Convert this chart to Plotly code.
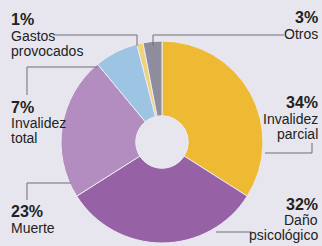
import plotly.graph_objects as go

categories = ["Invalidez parcial", "Daño psicológico", "Muerte", "Invalidez total", "Gastos provocados", "Otros"]
values = [34, 32, 23, 7, 1, 3]
colors = ["#EFBA33", "#9762A5", "#B38CC0", "#9DC5E3", "#F0D27A", "#8E8D9E"]
pct_labels = ["34%", "32%", "23%", "7%", "1%", "3%"]
name_lines = [["Invalidez", "parcial"], ["Daño", "psicológico"], ["Muerte"], ["Invalidez", "total"], ["Gastos", "provocados"], ["Otros"]]

W, H = 322, 246
BG = "#E7E6EE"
FONT = "Liberation Sans, Arial, sans-serif"
TXT = "#222222"
LINE = "#6E6E78"

def px(x):
    return x / W

def py(y):
    return 1 - y / H

fig = go.Figure(go.Pie(
    labels=categories, values=values, sort=False, direction="clockwise", rotation=0,
    hole=0.26, textinfo="none", hoverinfo="label+percent",
    marker=dict(colors=colors, line=dict(color="#EDEBF2", width=1)),
    domain=dict(x=[px(61), px(263)], y=[py(243), py(41)]),
    showlegend=False,
))

# label layout: (x, anchor, pct center y, line center ys)
label_pos = [
    (319, "right", 102.5, [119, 134]),
    (319, "right", 204.5, [220, 235]),
    (10, "left", 211, [228]),
    (10, "left", 107, [123, 138]),
    (10, "left", 19.5, [36, 51]),
    (319, "right", 17.5, [34]),
]

ann = []
for i, (x, anc, yp, ys) in enumerate(label_pos):
    ann.append(dict(x=px(x), y=py(yp), xref="paper", yref="paper", xanchor=anc, yanchor="middle",
                    text="<b>" + pct_labels[i] + "</b>", showarrow=False, borderpad=0,
                    font=dict(family=FONT, size=16, color=TXT)))
    for t, yy in zip(name_lines[i], ys):
        ann.append(dict(x=px(x), y=py(yy), xref="paper", yref="paper", xanchor=anc, yanchor="middle",
                        text=t, showarrow=False, borderpad=0,
                        font=dict(family=FONT, size=14, color=TXT)))

leaders = [
    [(265, 153), (312, 153), (312, 143)],
    [(216, 232), (252, 232)],
    [(71, 183), (27, 183), (27, 200)],
    [(97, 67), (27, 67), (27, 95)],
    [(54, 35), (137, 35), (137, 46)],
    [(153, 46), (153, 35), (284, 35)],
]
shapes = []
for pts in leaders:
    path = "M " + " L ".join(f"{px(a):.5f},{py(b):.5f}" for a, b in pts)
    shapes.append(dict(type="path", path=path, xref="paper", yref="paper",
                       line=dict(color=LINE, width=1)))

fig.update_layout(
    width=W, height=H, margin=dict(l=0, r=0, t=0, b=0),
    paper_bgcolor=BG, plot_bgcolor=BG,
    annotations=ann, shapes=shapes,
)
fig.write_html("out.html", config={"displayModeBar": False},
               post_script="document.body.style.margin='0';document.body.style.padding='0';document.body.style.overflow='hidden';document.body.style.background='" + BG + "';")
